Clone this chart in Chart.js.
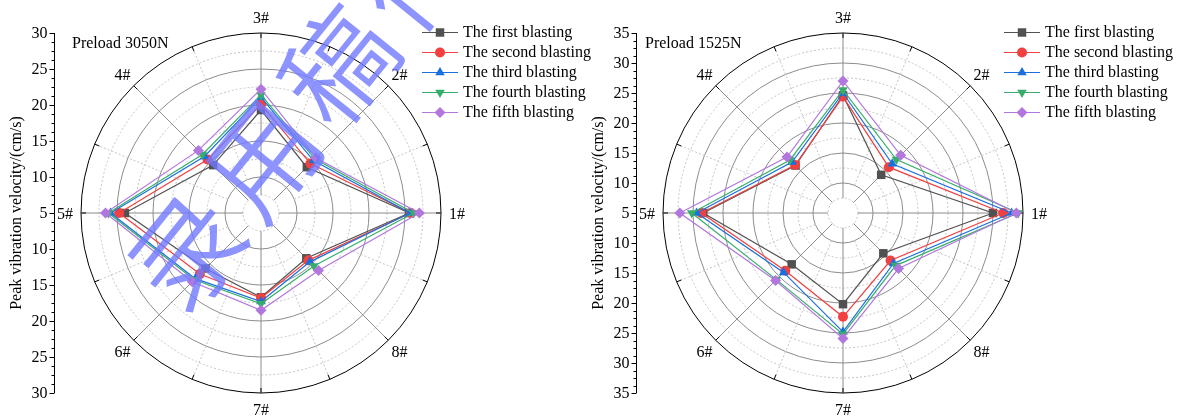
<!DOCTYPE html>
<html lang="en">
<head>
<meta charset="UTF-8">
<title>Peak vibration velocity</title>
<script src="https://cdn.jsdelivr.net/npm/chart.js"></script>
<style>
  html, body { margin: 0; padding: 0; background: #fff; }
  #wrap { position: relative; width: 1182px; height: 418px; overflow: hidden; }
  #wrap canvas { position: absolute; top: 0; }
</style>
</head>
<body>
<div id="wrap">
  <canvas id="chart3050" width="600" height="418" style="left:0"></canvas>
  <canvas id="chart1525" width="600" height="418" style="left:582px"></canvas>
</div>
<script>
// measuring points, counter-clockwise starting at the right
var points = ['1#', '2#', '3#', '4#', '5#', '6#', '7#', '8#'];
var seriesNames = ['The first blasting', 'The second blasting', 'The third blasting',
                   'The fourth blasting', 'The fifth blasting'];

// peak vibration velocity (cm/s), preload 3050N
var first3050  = [25.6, 14.0, 19.3, 14.4, 23.9, 15.9, 16.7, 13.9];
var second3050 = [25.8, 14.7, 20.1, 15.5, 24.7, 17.0, 16.8, 14.3];
var third3050  = [25.7, 15.3, 21.1, 16.1, 25.9, 17.9, 17.3, 14.6];
var fourth3050 = [26.2, 15.6, 21.4, 16.5, 26.2, 18.1, 17.6, 15.4];
var fifth3050  = [27.0, 15.8, 22.2, 17.3, 26.6, 18.5, 18.5, 16.3];

// peak vibration velocity (cm/s), preload 1525N
var first1525  = [30.0, 14.0, 24.6, 16.2, 28.3, 17.1, 20.2, 14.5];
var second1525 = [31.7, 15.8, 24.4, 16.3, 28.6, 18.6, 22.3, 16.2];
var third1525  = [33.1, 16.6, 25.0, 17.0, 29.4, 19.0, 24.8, 16.9];
var fourth1525 = [34.2, 17.6, 25.5, 17.5, 30.2, 20.7, 25.2, 17.4];
var fifth1525  = [33.9, 18.6, 27.0, 18.2, 32.2, 20.9, 25.9, 18.1];

var colors = ['#515151', '#F14040', '#1A6FDF', '#37AD6B', '#B177DE'];
var markers = [
  { style: 'rect', rotation: 0, radius: 6 },
  { style: 'circle', rotation: 0, radius: 5 },
  { style: 'triangle', rotation: 0, radius: 5.5 },
  { style: 'triangle', rotation: 180, radius: 5.5 },
  { style: 'rectRot', rotation: 0, radius: 5.5 }
];

// radar goes clockwise from startAngle, so walk the points backwards from 1#
var order = [0, 7, 6, 5, 4, 3, 2, 1];
var serif = '"Liberation Serif", "Times New Roman", serif';

function buildDatasets(series) {
  return series.map(function (vals, k) {
    return {
      label: seriesNames[k],
      data: order.map(function (i) { return vals[i]; }),
      borderColor: colors[k],
      backgroundColor: colors[k],
      borderWidth: 1.2,
      fill: false,
      pointStyle: markers[k].style,
      pointRotation: markers[k].rotation,
      pointRadius: markers[k].radius,
      pointHoverRadius: markers[k].radius,
      pointBorderWidth: 0,
      order: series.length - 1 - k
    };
  });
}

function polarDecor(opts) {
  return {
    id: 'polarDecor',
    beforeDatasetsDraw: function (chart) {
      var ctx = chart.ctx, s = chart.scales.r;
      var cx = s.xCenter, cy = s.yCenter, R = s.drawingArea;
      var a0 = s.getIndexAngle(0) - Math.PI / 2;
      ctx.save();
      // spokes: solid at the measuring points, dotted halfway between
      for (var j = 0; j < 16; j++) {
        var a = a0 + j * Math.PI / 8;
        var major = j % 2 === 0;
        var r0 = s.getDistanceFromCenterForValue(major ? 7.5 : 10);
        ctx.beginPath();
        ctx.lineWidth = 1;
        ctx.strokeStyle = major ? '#8c8c8c' : '#c4c4c4';
        ctx.setLineDash(major ? [] : [2, 2]);
        ctx.moveTo(cx + Math.cos(a) * r0, cy + Math.sin(a) * r0);
        ctx.lineTo(cx + Math.cos(a) * R, cy + Math.sin(a) * R);
        ctx.stroke();
        // tick on the outer ring
        ctx.setLineDash([]);
        ctx.strokeStyle = '#000';
        ctx.beginPath();
        ctx.moveTo(cx + Math.cos(a) * (R - 5), cy + Math.sin(a) * (R - 5));
        ctx.lineTo(cx + Math.cos(a) * R, cy + Math.sin(a) * R);
        ctx.stroke();
      }
      // point labels
      ctx.fillStyle = '#000';
      ctx.font = '16px ' + serif;
      ctx.textAlign = 'center';
      ctx.textBaseline = 'middle';
      chart.data.labels.forEach(function (lab, i) {
        var p = s.getPointPosition(i, R + 16);
        ctx.fillText(lab, p.x, p.y + 1.5);
      });
      ctx.restore();
    },
    afterDraw: function (chart) {
      var ctx = chart.ctx, s = chart.scales.r;
      var cy = s.yCenter, R = s.drawingArea;
      var ax = 54.5;
      ctx.save();
      // vertical value axis, mirrored about the centre
      ctx.strokeStyle = '#000';
      ctx.lineWidth = 1;
      ctx.beginPath();
      ctx.moveTo(ax, cy - R);
      ctx.lineTo(ax, cy + R);
      ctx.stroke();
      ctx.fillStyle = '#000';
      ctx.font = '16px ' + serif;
      ctx.textAlign = 'right';
      ctx.textBaseline = 'middle';
      for (var v = s.min; v <= s.max + 1e-6; v += 1.25) {
        var d = s.getDistanceFromCenterForValue(v);
        var isMajor = Math.abs(v % 5) < 1e-6;
        var len = isMajor ? 5 : 3;
        [cy - d, cy + d].forEach(function (y, n) {
          if (n === 1 && d === 0) return;
          var yy = Math.round(y) + 0.5;
          ctx.beginPath();
          ctx.moveTo(ax - len, yy);
          ctx.lineTo(ax, yy);
          ctx.stroke();
          if (isMajor) ctx.fillText(String(v), ax - 7, y + 1);
        });
      }
      // axis title
      ctx.save();
      ctx.translate(17, cy);
      ctx.rotate(-Math.PI / 2);
      ctx.textAlign = 'center';
      ctx.fillText('Peak vibration velocity/(cm/s)', 0, 0);
      ctx.restore();
      // preload caption
      ctx.textAlign = 'left';
      ctx.fillText(opts.caption, opts.captionX, 44);
      // legend: line with marker in the middle
      chart.data.datasets.forEach(function (ds, k) {
        var y = 32 + k * 20;
        ctx.strokeStyle = colors[k];
        ctx.lineWidth = 1.2;
        ctx.beginPath();
        ctx.moveTo(422, y + 0.5);
        ctx.lineTo(458, y + 0.5);
        ctx.stroke();
        ctx.fillStyle = colors[k];
        Chart.helpers.drawPoint(ctx, {
          pointStyle: markers[k].style,
          rotation: markers[k].rotation,
          radius: markers[k].radius,
          borderWidth: 0
        }, 440, y + 0.5);
        ctx.fillStyle = '#000';
        ctx.fillText(ds.label, 463, y + 1);
      });
      // stamp across the plot
      if (opts.stamp) {
        ctx.fillStyle = 'rgba(112, 120, 255, 0.8)';
        ctx.font = '350 110px "Noto Sans CJK SC"';
        ctx.textAlign = 'center';
        ctx.textBaseline = 'middle';
        var ang = -51 * Math.PI / 180;
        Array.from(opts.stamp).forEach(function (ch, k) {
          ctx.save();
          ctx.translate(187 + k * 120 * Math.cos(ang), 252 + k * 120 * Math.sin(ang));
          ctx.rotate(ang);
          ctx.fillText(ch, 0, 0);
          ctx.restore();
        });
      }
      ctx.restore();
    }
  };
}

function makeChart(id, series, maxVal, pad, opts) {
  return new Chart(document.getElementById(id).getContext('2d'), {
    type: 'radar',
    data: {
      labels: order.map(function (i) { return points[i]; }),
      datasets: buildDatasets(series)
    },
    options: {
      responsive: false,
      animation: false,
      layout: { padding: pad },
      plugins: { legend: { display: false }, tooltip: { enabled: false } },
      scales: {
        r: {
          min: 5,
          max: maxVal,
          startAngle: 90,
          ticks: { display: false, stepSize: 2.5 },
          pointLabels: { display: false },
          angleLines: { display: false },
          grid: {
            circular: true,
            lineWidth: 1,
            color: function (c) {
              var v = c.tick ? c.tick.value : 0;
              if (v >= maxVal) return '#000';
              return v % 5 === 0 ? '#8c8c8c' : '#c4c4c4';
            }
          },
          border: {
            dash: function (c) {
              var v = c.tick ? c.tick.value : 0;
              return (v % 5 === 0) ? [] : [2, 2];
            }
          }
        }
      }
    },
    plugins: [polarDecor(opts)]
  });
}

makeChart('chart3050',
  [first3050, second3050, third3050, fourth3050, fifth3050], 30,
  { left: 81, right: 159, top: 33, bottom: 25 },
  { caption: 'Preload 3050N', captionX: 72, stamp: '录用稿件' });

makeChart('chart1525',
  [first1525, second1525, third1525, fourth1525, fifth1525], 35,
  { left: 81, right: 159, top: 33, bottom: 25 },
  { caption: 'Preload 1525N', captionX: 63 });
</script>
</body>
</html>
